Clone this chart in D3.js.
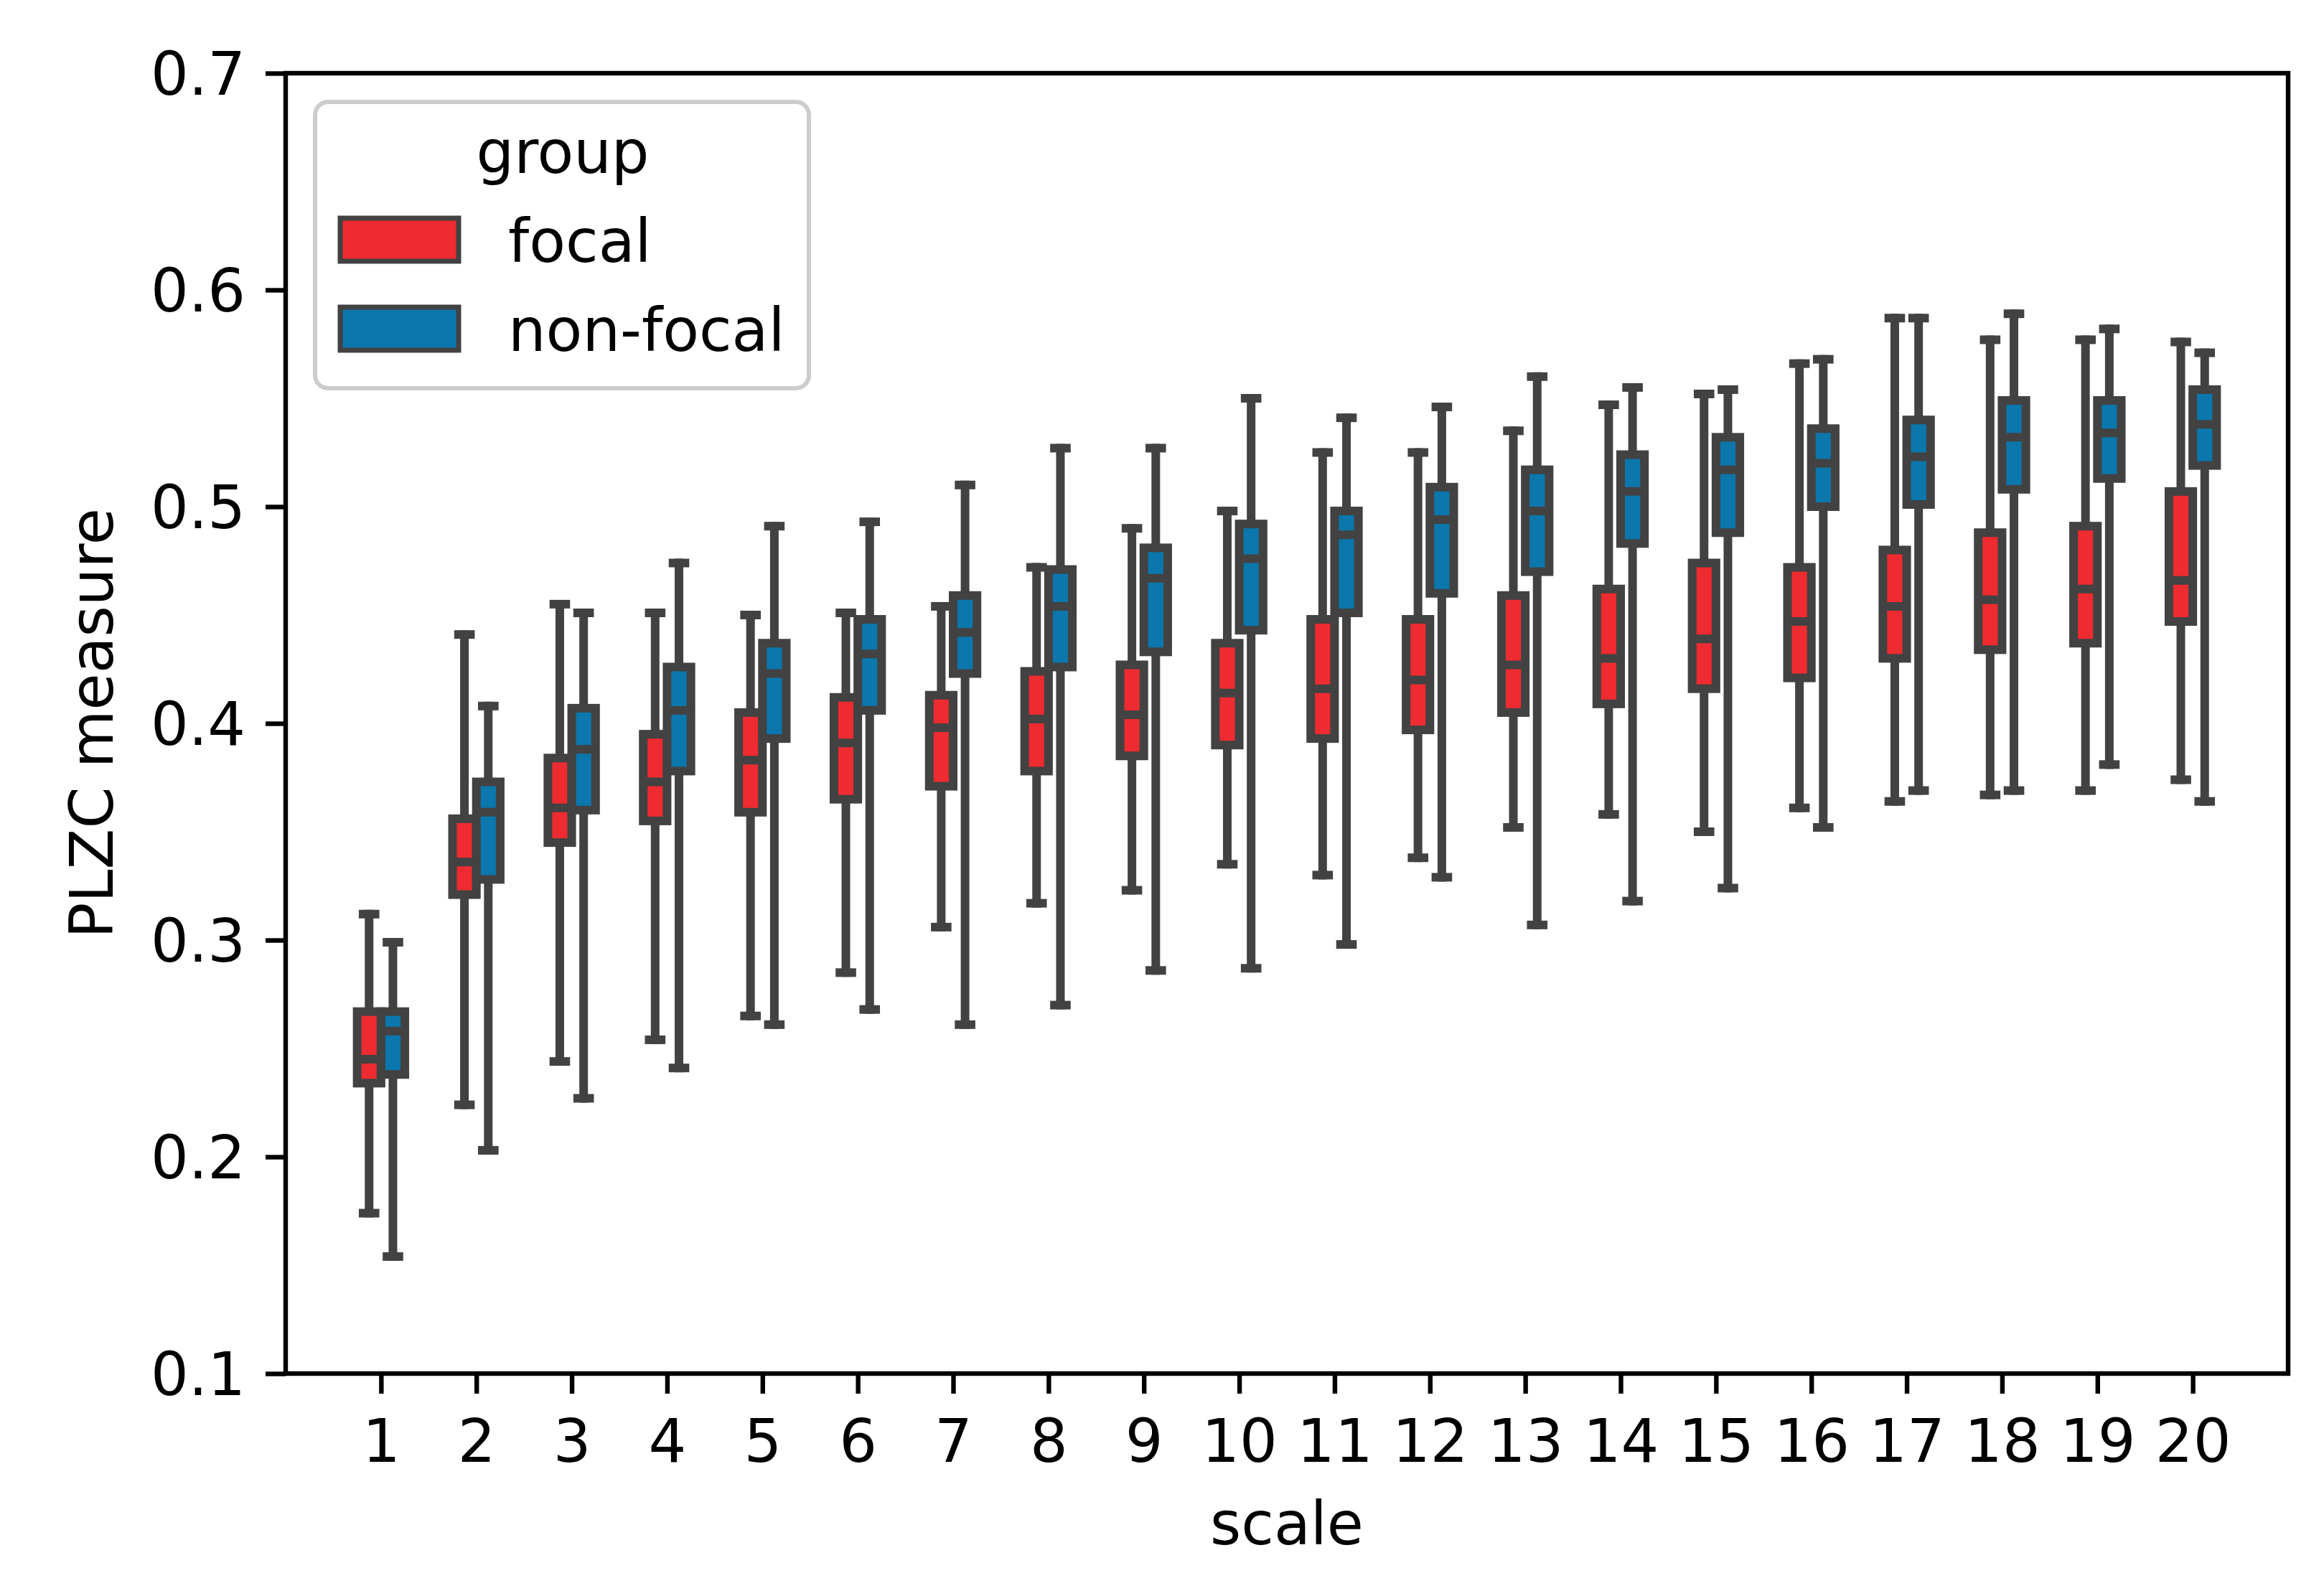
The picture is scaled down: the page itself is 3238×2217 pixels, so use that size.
<!DOCTYPE html>
<html>
<head>
<meta charset="utf-8">
<script src="https://cdn.jsdelivr.net/npm/d3@7/dist/d3.min.js"></script>
<style>
  body { margin: 0; background: #fff; }
  svg { display: block; }
  text { font-family: "DejaVu Sans", sans-serif; fill: #000; }
</style>
</head>
<body>
<div id="chart"></div>
<script>
// scale values on the x axis
const scales = d3.range(1, 21);
const groups = ["focal", "non-focal"];
const groupColors = ["#ed2b30", "#0b77ac"];
const yTicks = [0.1, 0.2, 0.3, 0.4, 0.5, 0.6, 0.7];

// focal: whisker low, q1, median, q3, whisker high
const focalLow  = [0.174, 0.224, 0.244, 0.254, 0.265, 0.285, 0.306, 0.317, 0.323, 0.335, 0.330, 0.338, 0.352, 0.358, 0.350, 0.361, 0.364, 0.367, 0.369, 0.374];
const focalQ1   = [0.234, 0.321, 0.345, 0.355, 0.359, 0.365, 0.371, 0.378, 0.385, 0.390, 0.393, 0.397, 0.405, 0.409, 0.416, 0.421, 0.430, 0.434, 0.437, 0.447];
const focalMed  = [0.245, 0.336, 0.361, 0.373, 0.383, 0.391, 0.398, 0.402, 0.404, 0.414, 0.416, 0.420, 0.427, 0.430, 0.439, 0.447, 0.454, 0.457, 0.462, 0.466];
const focalQ3   = [0.267, 0.356, 0.384, 0.395, 0.405, 0.412, 0.413, 0.424, 0.427, 0.437, 0.448, 0.448, 0.459, 0.462, 0.474, 0.472, 0.480, 0.488, 0.491, 0.507];
const focalHigh = [0.312, 0.441, 0.455, 0.451, 0.450, 0.451, 0.454, 0.472, 0.490, 0.498, 0.525, 0.525, 0.535, 0.547, 0.552, 0.566, 0.587, 0.577, 0.577, 0.576];

// non-focal
const nonLow  = [0.154, 0.203, 0.227, 0.241, 0.261, 0.268, 0.261, 0.270, 0.286, 0.287, 0.298, 0.329, 0.307, 0.318, 0.324, 0.352, 0.369, 0.369, 0.381, 0.364];
const nonQ1   = [0.238, 0.328, 0.360, 0.378, 0.393, 0.406, 0.423, 0.426, 0.433, 0.443, 0.451, 0.460, 0.470, 0.483, 0.488, 0.500, 0.501, 0.508, 0.513, 0.519];
const nonMed  = [0.258, 0.359, 0.388, 0.406, 0.423, 0.432, 0.442, 0.454, 0.467, 0.476, 0.487, 0.494, 0.498, 0.507, 0.517, 0.520, 0.523, 0.532, 0.534, 0.538];
const nonQ3   = [0.267, 0.373, 0.407, 0.426, 0.437, 0.448, 0.459, 0.471, 0.481, 0.492, 0.498, 0.509, 0.517, 0.524, 0.532, 0.536, 0.540, 0.549, 0.549, 0.554];
const nonHigh = [0.299, 0.408, 0.451, 0.474, 0.491, 0.493, 0.510, 0.527, 0.527, 0.550, 0.541, 0.546, 0.560, 0.555, 0.554, 0.568, 0.587, 0.589, 0.582, 0.571];

const width = 3238, height = 2217;
const plotLeft = 398, plotRight = 3188, plotTop = 102, plotBottom = 1914;
const lineGray = "#424242";

const svg = d3.select("#chart").append("svg")
    .attr("width", width)
    .attr("height", height);

const x = d3.scaleLinear().domain([0, 21]).range([plotLeft, plotRight]);
const y = d3.scaleLinear().domain([0.1, 0.7]).range([plotBottom, plotTop]);

// one row per box
const boxes = [];
scales.forEach((s, i) => {
    boxes.push({ scale: s, g: 0, lo: focalLow[i], q1: focalQ1[i], med: focalMed[i], q3: focalQ3[i], hi: focalHigh[i] });
    boxes.push({ scale: s, g: 1, lo: nonLow[i], q1: nonQ1[i], med: nonMed[i], q3: nonQ3[i], hi: nonHigh[i] });
});

const boxW = 0.25;       // in scale units
const offset = 0.125;
const lw = 12;

const bx = svg.append("g").selectAll("g")
    .data(boxes)
    .join("g")
    .attr("transform", d => `translate(${x(d.scale + (d.g === 0 ? -offset : offset))},0)`);

const halfW = (x(boxW) - x(0)) / 2;

// whiskers
bx.append("line")
    .attr("x1", 0).attr("x2", 0)
    .attr("y1", d => y(d.q3)).attr("y2", d => y(d.hi))
    .attr("stroke", lineGray).attr("stroke-width", lw).attr("stroke-linecap", "square");
bx.append("line")
    .attr("x1", 0).attr("x2", 0)
    .attr("y1", d => y(d.q1)).attr("y2", d => y(d.lo))
    .attr("stroke", lineGray).attr("stroke-width", lw).attr("stroke-linecap", "square");
// caps
bx.append("line")
    .attr("x1", -halfW / 2).attr("x2", halfW / 2)
    .attr("y1", d => y(d.hi)).attr("y2", d => y(d.hi))
    .attr("stroke", lineGray).attr("stroke-width", lw).attr("stroke-linecap", "square");
bx.append("line")
    .attr("x1", -halfW / 2).attr("x2", halfW / 2)
    .attr("y1", d => y(d.lo)).attr("y2", d => y(d.lo))
    .attr("stroke", lineGray).attr("stroke-width", lw).attr("stroke-linecap", "square");
// box
bx.append("rect")
    .attr("x", -halfW)
    .attr("width", 2 * halfW)
    .attr("y", d => y(d.q3))
    .attr("height", d => y(d.q1) - y(d.q3))
    .attr("fill", d => groupColors[d.g])
    .attr("stroke", lineGray)
    .attr("stroke-width", lw);
// median
bx.append("line")
    .attr("x1", -halfW).attr("x2", halfW)
    .attr("y1", d => y(d.med)).attr("y2", d => y(d.med))
    .attr("stroke", lineGray).attr("stroke-width", lw);

// axes
const fontSize = 83;
const xAxis = svg.append("g")
    .attr("transform", `translate(0,${plotBottom})`)
    .call(d3.axisBottom(x).tickValues(scales).tickFormat(d => d).tickSize(28).tickPadding(36));
const yAxis = svg.append("g")
    .attr("transform", `translate(${plotLeft},0)`)
    .call(d3.axisLeft(y).tickValues(yTicks).tickFormat(d3.format(".1f")).tickSize(28).tickPadding(28));

[xAxis, yAxis].forEach(a => {
    a.select(".domain").remove();
    a.selectAll(".tick line").attr("stroke", "#000").attr("stroke-width", 6.4);
    a.selectAll(".tick text")
        .attr("font-family", "DejaVu Sans")
        .attr("font-size", fontSize)
        .attr("fill", "#000");
});
yAxis.selectAll(".tick text").attr("dy", "0.36em");

// frame
svg.append("rect")
    .attr("x", plotLeft).attr("y", plotTop)
    .attr("width", plotRight - plotLeft).attr("height", plotBottom - plotTop)
    .attr("fill", "none").attr("stroke", "#000").attr("stroke-width", 6.4);

// axis labels
svg.append("text")
    .attr("x", (plotLeft + plotRight) / 2).attr("y", 2152)
    .attr("text-anchor", "middle")
    .attr("font-size", fontSize)
    .text("scale");
svg.append("text")
    .attr("transform", `translate(157,${(plotTop + plotBottom) / 2}) rotate(-90)`)
    .attr("text-anchor", "middle")
    .attr("font-size", fontSize)
    .text("PLZC measure");

// legend
const legend = svg.append("g");
legend.append("rect")
    .attr("x", 439).attr("y", 142)
    .attr("width", 688).attr("height", 399)
    .attr("rx", 18)
    .attr("fill", "#fff").attr("fill-opacity", 0.8)
    .attr("stroke", "#cccccc").attr("stroke-width", 6);
legend.append("text")
    .attr("x", 784).attr("y", 241)
    .attr("text-anchor", "middle")
    .attr("font-size", fontSize)
    .text("group");
const item = legend.selectAll("g.item")
    .data(groups)
    .join("g")
    .attr("class", "item")
    .attr("transform", (d, i) => `translate(0,${304 + i * 124})`);
item.append("rect")
    .attr("x", 474).attr("y", 0)
    .attr("width", 165).attr("height", 60)
    .attr("fill", (d, i) => groupColors[i])
    .attr("stroke", lineGray).attr("stroke-width", 7);
item.append("text")
    .attr("x", 708).attr("y", 61)
    .attr("font-size", fontSize)
    .text(d => d);
</script>
</body>
</html>
